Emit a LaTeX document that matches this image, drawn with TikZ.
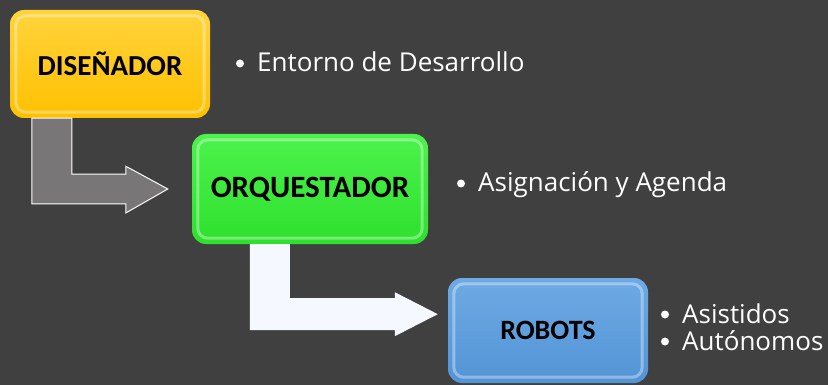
\documentclass[tikz,border=0pt]{standalone}
\usepackage{fontspec}
\setmainfont{Carlito}
\newfontfamily\bulletfont{Open Sans}
\usetikzlibrary{calc}
\definecolor{bgcol}{HTML}{404040}
\definecolor{yellowtop}{HTML}{FFD43C}
\definecolor{yellowbot}{HTML}{FFC000}
\definecolor{greentop}{HTML}{4CF24C}
\definecolor{greenbot}{HTML}{2EE02E}
\definecolor{bluetop}{HTML}{6EAAE4}
\definecolor{bluebot}{HTML}{5394D6}
\definecolor{arrowgray}{HTML}{787676}
\definecolor{arrowwhite}{HTML}{F5F8FF}

\begin{document}
\begin{tikzpicture}[x=1pt,y=-1pt,
  box/.style={rounded corners=14pt,minimum width=#1,text=black},
  bullets/.style={anchor=base west,text=white,font=\bulletfont\fontsize{26}{28}\selectfont,inner sep=0pt}]
  \fill[bgcol] (0,0) rectangle (828,385);
  \useasboundingbox (0,0) rectangle (828,385);

  % cajas
  \node[box=200pt,minimum height=108pt,top color=yellowtop,bottom color=yellowbot,
    font=\bfseries\fontsize{29}{32}\selectfont] (dis) at (110,64) {DISEÑADOR};
  \node[box=236pt,minimum height=110pt,top color=greentop,bottom color=greenbot,
    font=\bfseries\fontsize{31}{34}\selectfont] (orq) at (310,189) {ORQUESTADOR};
  \node[box=200pt,minimum height=105pt,top color=bluetop,bottom color=bluebot,
    font=\bfseries\fontsize{28}{32}\selectfont] (rob) at (548,330.5) {ROBOTS};

  % brillo de los bordes
  \foreach \n in {dis,orq,rob} {
    \draw[white,opacity=0.35,line width=3pt,rounded corners=10pt]
      ([shift={(6,6)}]\n.north west) rectangle ([shift={(-6,-6)}]\n.south east);
  }

  % flechas
  \draw[fill=arrowgray,draw=white,line width=1pt] ([xshift=22pt]dis.south west) -- ++(40,0) -- ++(0,56) -- ++(54,0)
    -- ++(0,-8) -- ($(orq.west)+(-24,0)$) -- ++(-42,24) -- ++(0,-9) -- ++(-94,0) -- cycle;
  \fill[arrowwhite] ([xshift=58pt]orq.south west) -- ++(40,0) -- ++(0,54) -- ++(105,0)
    -- ++(0,-6) -- ++(43,22) -- ++(-43,22) -- ++(0,-6) -- ++(-145,0) -- cycle;

  % textos
  \node[bullets] (entorno) at (257,72) {Entorno de Desarrollo};
  \node[bullets] (agenda) at (478,192) {Asignación y Agenda};
  \node[bullets] (asist) at (682,323) {Asistidos};
  \node[bullets] (auton) at (682,350) {Autónomos};
  \foreach \n in {entorno,agenda,asist,auton}
    \fill[white] ([shift={(-17,-8.5)}]\n.base west) circle (4);
\end{tikzpicture}
\end{document}
